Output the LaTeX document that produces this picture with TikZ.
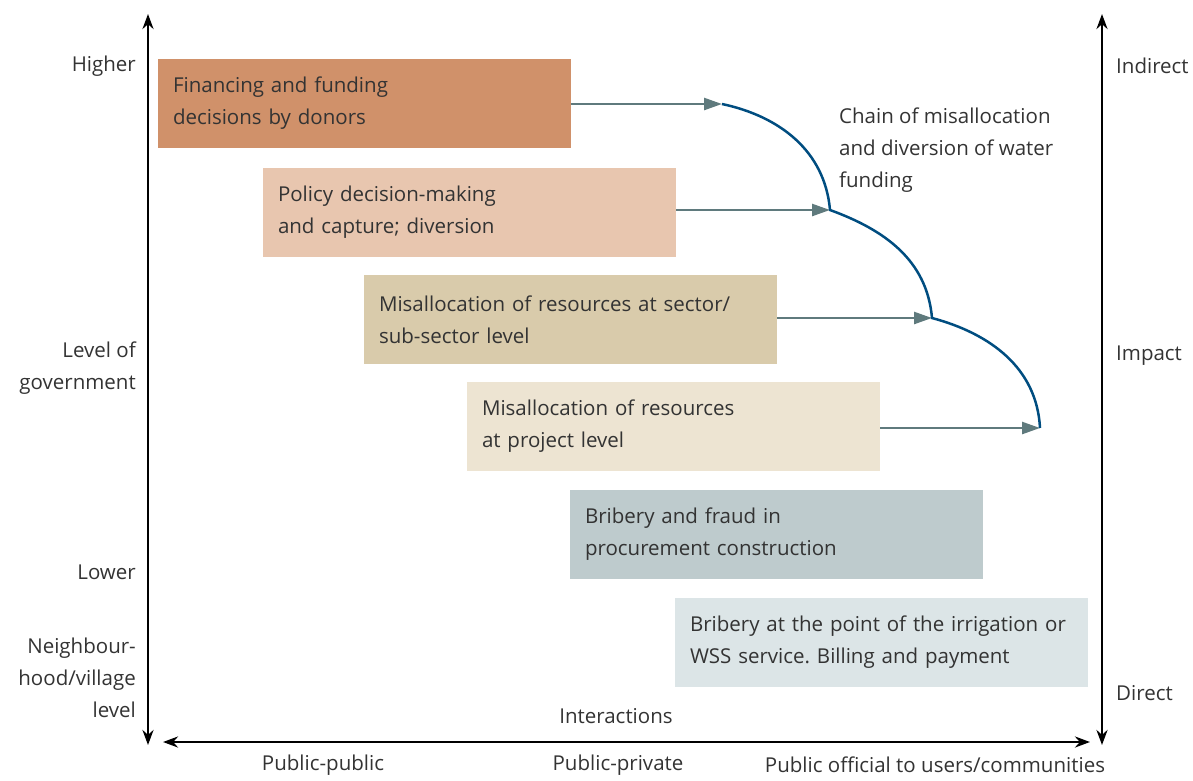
\documentclass[tikz,border=0pt]{standalone}
\usepackage{fontspec}
\setmainfont{Open Sans}
\usetikzlibrary{arrows.meta}
\frenchspacing

\definecolor{txt}{HTML}{333333}
\definecolor{finc}{HTML}{D0916A}
\definecolor{polc}{HTML}{E8C6AF}
\definecolor{secc}{HTML}{D9CBAB}
\definecolor{projc}{HTML}{EDE4D2}
\definecolor{bribc}{HTML}{BECBCD}
\definecolor{servc}{HTML}{DCE5E7}
\definecolor{flowc}{HTML}{5F7A7D}
\definecolor{chainc}{HTML}{004D80}

\tikzset{
  box/.style={anchor=north west, text width=383pt, inner xsep=15pt, inner ysep=0pt,
    minimum height=89pt, outer sep=0pt, align=left, text=txt},
  lbl/.style={text=txt, inner sep=0pt},
  axis/.style={line width=2.5pt, {Stealth[length=15pt,width=11pt]}-{Stealth[length=15pt,width=11pt]}},
  flow/.style={line width=2.5pt, flowc, -{Triangle[length=18pt,width=12pt]}},
  chain/.style={line width=2.5pt, chainc}
}

\begin{document}
\begin{tikzpicture}[x=1pt,y=-1pt,font=\fontsize{20.5}{32}\selectfont]
  \useasboundingbox (0,0) rectangle (1193,780);

  % axes
  \coordinate (lt) at (148,14);
  \coordinate (lb) at (148,745);
  \coordinate (rt) at (1102,14);
  \coordinate (rb) at (1102,745);
  \coordinate (bl) at (163,742);
  \coordinate (br) at (1090,742);
  \draw[axis] (lb) -- (lt);
  \draw[axis] (rb) -- (rt);
  \draw[axis] (bl) -- (br);

  % boxes
  \node[box,fill=finc]  (fin)  at (158,59)  {Financing and funding\\decisions by donors};
  \node[box,fill=polc]  (pol)  at (263,168) {Policy decision-making\\and capture; diversion};
  \node[box,fill=secc]  (sec)  at (364,275) {Misallocation of resources at sector/\\sub-sector level};
  \node[box,fill=projc] (proj) at (467,382) {Misallocation of resources\\at project level};
  \node[box,fill=bribc] (brib) at (570,490) {Bribery and fraud in\\procurement construction};
  \node[box,fill=servc] (serv) at (675,598) {Bribery at the point of the irrigation or\\WSS service. Billing and payment};

  % chain
  \coordinate (c1) at (722,104);
  \coordinate (c2) at (830,210);
  \coordinate (c3) at (932,318);
  \coordinate (c4) at (1040,428);
  \draw[flow] (fin.east |- c1) -- (c1);
  \draw[flow] (pol.east |- c2) -- (c2);
  \draw[flow] (sec.east |- c3) -- (c3);
  \draw[flow] (proj.east |- c4) -- (c4);
  \draw[chain] (c1) to[out=-12,in=95] (c2) to[out=-20,in=95] (c3) to[out=-15,in=93] (c4);
  \node[lbl,anchor=north west,align=left] (chainlbl) at (839,108) {Chain of misallocation\\and diversion of water\\funding};

  % left labels
  \node[lbl,anchor=east,align=right] (higher) at (136,66)  {Higher};
  \node[lbl,anchor=east,align=right] (level)  at (136,368) {Level of\\government};
  \node[lbl,anchor=east,align=right] (lower)  at (136,572) {Lower};
  \node[lbl,anchor=east,align=right] (neigh)  at (136,678) {Neighbour-\\hood/village\\level};

  % right labels
  \node[lbl,anchor=west] (indirect) at (1116,66)  {Indirect};
  \node[lbl,anchor=west] (impact)   at (1116,356) {Impact};
  \node[lbl,anchor=west] (direct)   at (1116,693) {Direct};

  % bottom labels
  \node[lbl] (inter) at (616,716) {Interactions};
  \node[lbl] (pp)    at (323,765) {Public-public};
  \node[lbl] (ppriv) at (618,765) {Public-private};
  \node[lbl] (puo)   at (935,765) {Public official to users/communities};
\end{tikzpicture}
\end{document}
